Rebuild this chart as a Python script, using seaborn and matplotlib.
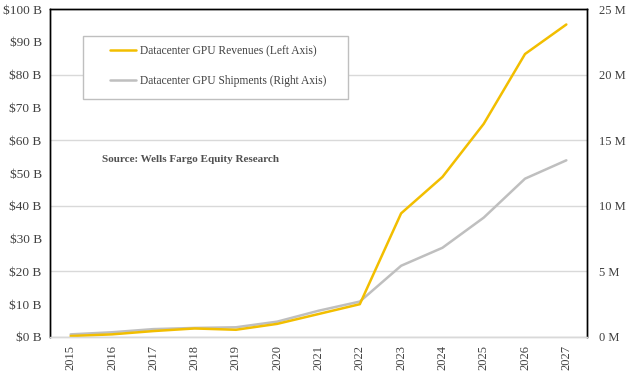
import matplotlib
matplotlib.use("Agg")
import matplotlib.pyplot as plt
import seaborn as sns
import pandas as pd
from matplotlib.patches import Rectangle

years = ["2015", "2016", "2017", "2018", "2019", "2020", "2021", "2022",
         "2023", "2024", "2025", "2026", "2027"]
revenues_b = [0.3, 0.8, 1.8, 2.6, 2.2, 4.0, 7.0, 10.0, 37.7, 48.8, 65.0, 86.3, 95.3]
shipments_m = [0.2, 0.36, 0.6, 0.69, 0.74, 1.17, 2.0, 2.7, 5.43, 6.8, 9.1, 12.07, 13.47]
left_ticks = [0, 10, 20, 30, 40, 50, 60, 70, 80, 90, 100]
right_ticks = [0, 5, 10, 15, 20, 25]

sns.set_theme(style="white")
plt.rcParams['font.family'] = ['Liberation Serif', 'DejaVu Serif']

yellow = "#F2BE00"
gray = "#BFBFBF"
txt = "#404040"

df = pd.DataFrame({"year": years, "rev": revenues_b, "ship": shipments_m})
df["x"] = range(len(years))

fig = plt.figure(figsize=(6.28, 3.78), dpi=100)
ax = fig.add_axes([0.0796, 0.1085, 0.8551, 0.8675])
ax2 = ax.twinx()

sns.lineplot(data=df, x="x", y="ship", ax=ax2, color=gray, linewidth=1.8,
             label="Datacenter GPU Shipments (Right Axis)", legend=False)
sns.lineplot(data=df, x="x", y="rev", ax=ax, color=yellow, linewidth=1.8,
             label="Datacenter GPU Revenues (Left Axis)", legend=False)

ax.set_zorder(2)
ax.patch.set_visible(False)
ax2.set_zorder(1)

ax.set_xlim(-0.5, len(years) - 0.5)
ax.set_ylim(0, 100)
ax2.set_ylim(0, 25)
ax.set_xticks(df["x"])
ax.set_xticklabels(years, rotation=90, fontsize=9, color=txt)
ax.set_yticks(left_ticks)
ax.set_yticklabels([f"${v} B" for v in left_ticks], fontsize=9.5, color=txt)
ax2.set_yticks(right_ticks)
ax2.set_yticklabels([f"{v} M" for v in right_ticks], fontsize=9, color=txt)
ax.set_xlabel("")
ax.set_ylabel("")
ax2.set_ylabel("")
ax.tick_params(axis="both", length=0, pad=6)
ax2.tick_params(axis="y", length=0, pad=9)

ax2.yaxis.grid(True, color="#D9D9D9", linewidth=1)
ax.yaxis.grid(False)
ax.xaxis.grid(False)

for a in (ax, ax2):
    a.spines["left"].set_color("black")
    a.spines["right"].set_color("black")
    a.spines["top"].set_color("black")
    a.spines["bottom"].set_color("#D9D9D9")
    for s in a.spines.values():
        s.set_linewidth(1)

# legend frame
ax.add_patch(Rectangle((0.0615, 0.7256), 0.4935, 0.1924, transform=ax.transAxes,
                       facecolor="white", edgecolor="#BFBFBF", linewidth=1, zorder=5))

h1, l1 = ax.get_legend_handles_labels()
h2, l2 = ax2.get_legend_handles_labels()
leg = ax.legend(h1 + h2, l1 + l2, loc="upper left", bbox_to_anchor=(0.111, 0.889),
                borderaxespad=0, frameon=False, fontsize=8.3,
                labelspacing=1.5, handlelength=2.3, borderpad=0,
                handletextpad=0.3, labelcolor=txt)
leg.set_zorder(6)

ax.text(0.097, 0.54, "Source: Wells Fargo Equity Research", transform=ax.transAxes,
        fontsize=8, fontweight="bold", color="#505050", ha="left", va="center")

fig.savefig("out.png", dpi=100)
